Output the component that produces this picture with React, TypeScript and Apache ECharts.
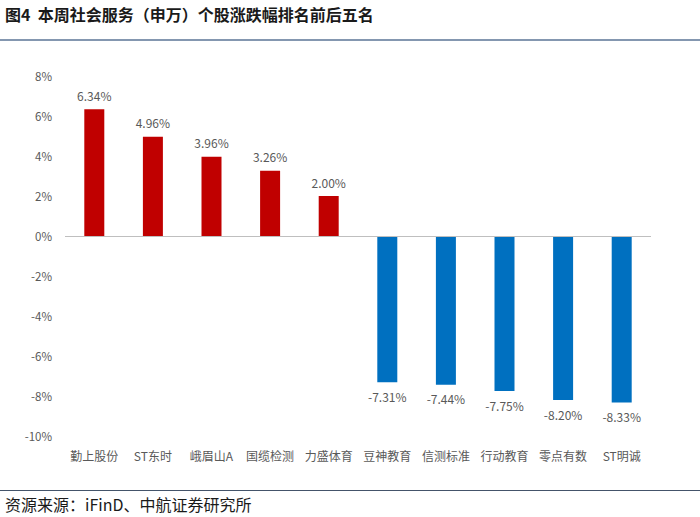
import React, { useEffect, useRef } from "react";
import * as echarts from "echarts";

const categories = ["勤上股份", "ST东时", "峨眉山A", "国缆检测", "力盛体育", "豆神教育", "信测标准", "行动教育", "零点有数", "ST明诚"];
const values = [6.34, 4.96, 3.96, 3.26, 2.0, -7.31, -7.44, -7.75, -8.2, -8.33];
const titleText = "图4  本周社会服务（申万）个股涨跌幅排名前后五名";
const sourceText = "资源来源：iFinD、中航证券研究所";

export default function App() {
  const ref = useRef<HTMLDivElement>(null);
  useEffect(() => {
    document.body.style.margin = "0";
    const chart = echarts.init(ref.current!, null, { renderer: "svg" });
    const labelColor = "#595959";
    const font = "'Noto Sans CJK SC', 'Noto Sans', sans-serif";
    chart.setOption({
      animation: false,
      backgroundColor: "#ffffff",
      grid: { left: 65, right: 49, top: 76, bottom: 81, containLabel: false },
      graphic: [
        {
          type: "text",
          left: 5,
          top: 6,
          style: { text: titleText, font: "bold 16px 'Noto Sans CJK SC', serif", fill: "#1a1a1a" },
        },
        {
          type: "rect",
          shape: { x: 0, y: 39, width: 700, height: 2 },
          style: { fill: "#8497B0" },
        },
        {
          type: "rect",
          shape: { x: 0, y: 490, width: 700, height: 1 },
          style: { fill: "#44546A" },
        },
        {
          type: "text",
          left: 5,
          top: 496,
          style: { text: sourceText, font: "16px 'Noto Sans CJK SC', serif", fill: "#1a1a1a" },
        },
      ],
      xAxis: {
        type: "category",
        data: categories,
        axisLine: { show: false, onZero: false },
        axisTick: { show: false },
        axisLabel: { color: labelColor, fontSize: 12, fontFamily: font, margin: 13, interval: 0 },
      },
      yAxis: {
        type: "value",
        min: -10,
        max: 8,
        interval: 2,
        axisLine: { show: false },
        axisTick: { show: false },
        splitLine: { show: false },
        axisLabel: { color: labelColor, fontSize: 11.5, fontFamily: font, margin: 13, formatter: "{value}%" },
      },
      series: [
        {
          type: "bar",
          data: values.map((v) => ({
            value: v,
            itemStyle: { color: v >= 0 ? "#C00000" : "#0070C0" },
            label: { position: v >= 0 ? "top" : "bottom" },
          })),
          barWidth: 20,
          label: {
            show: true,
            distance: 8,
            color: labelColor,
            fontSize: 12,
            fontFamily: font,
            formatter: (p: any) => p.value.toFixed(2) + "%",
          },
          markLine: {
            silent: true,
            symbol: "none",
            label: { show: false },
            lineStyle: { color: "#BFBFBF", width: 1, type: "solid" },
            data: [{ yAxis: 0 }],
          },
        },
      ],
    });
    return () => chart.dispose();
  }, []);
  return <div ref={ref} style={{ width: 700, height: 517 }} />;
}
